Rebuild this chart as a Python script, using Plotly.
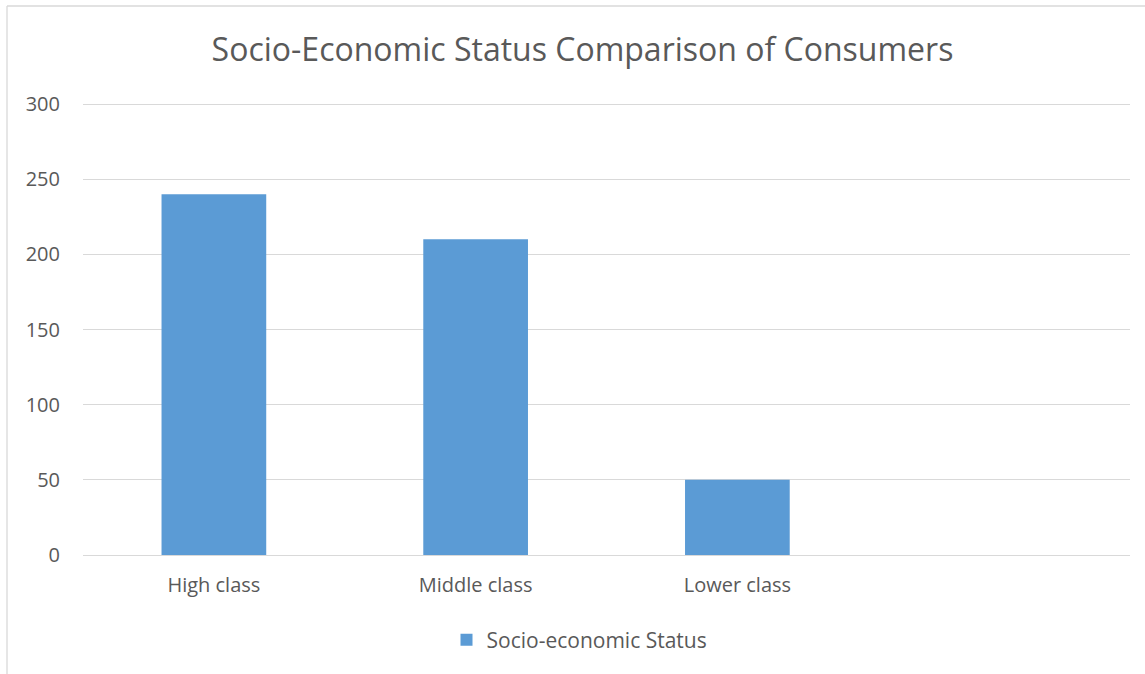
import plotly.graph_objects as go

categories = ["High class", "Middle class", "Lower class", " "]
values = [240, 210, 50, None]
series_name = "Socio-economic Status"
title_text = "Socio-Economic Status Comparison of Consumers"
y_ticks = [0, 50, 100, 150, 200, 250, 300]
y_max = 302

W, H = 1145, 674
L, R, B = 83, 1130, 555
T300 = 104                      # pixel row of the 300 gridline
T = B - (B - T300) * y_max / 300

fig = go.Figure()
fig.add_trace(go.Bar(
    x=categories, y=values, name=series_name,
    marker=dict(color="#5b9bd5", line=dict(width=0)),
    width=0.4, showlegend=True,
))

def px_x(p):
    return (p - L) / (R - L)

def px_y(p):
    return (B - p) / (B - T)

fig.update_layout(
    width=W, height=H,
    margin=dict(l=L, r=W - R, t=T, b=H - B, autoexpand=False),
    paper_bgcolor="white", plot_bgcolor="white",
    font=dict(family="Open Sans", color="#595959"),
    title=dict(text=title_text, x=582.5 / W, xanchor="center", xref="container",
               y=1 - 50 / H, yanchor="middle", yref="container",
               font=dict(size=32, color="#595959", family="Open Sans")),
    showlegend=True,
    legend=dict(orientation="h", x=0.5 - 27 / (R - L), xanchor="center", xref="paper",
                y=px_y(640), yanchor="middle", yref="paper",
                font=dict(size=21, color="#595959"),
                itemsizing="constant"),
    xaxis=dict(type="category", categoryorder="array", categoryarray=categories,
               showgrid=False, showline=False, zeroline=False, ticks="",
               tickfont=dict(size=20, color="#595959"), ticklabelstandoff=16,
               fixedrange=True),
    yaxis=dict(range=[0, y_max], tickvals=y_ticks, showgrid=True,
               gridcolor="#d9d9d9", gridwidth=1.3, zeroline=True,
               zerolinecolor="#d9d9d9", zerolinewidth=1.3, showline=False,
               ticks="", tickfont=dict(size=20, color="#595959"),
               ticklabelstandoff=22, fixedrange=True),
    bargap=0.6,
    shapes=[
        dict(type="line", xref="paper", yref="paper",
             x0=px_x(7), x1=px_x(7), y0=px_y(6), y1=px_y(H + 5),
             line=dict(color="#d9d9d9", width=1.3)),
        dict(type="line", xref="paper", yref="paper",
             x0=px_x(7), x1=px_x(W + 5), y0=px_y(6), y1=px_y(6),
             line=dict(color="#d9d9d9", width=1.3)),
    ],
)

fig.write_html("out.html", config={"displayModeBar": False},
               post_script="document.body.style.margin='0';document.body.style.overflow='hidden';")
